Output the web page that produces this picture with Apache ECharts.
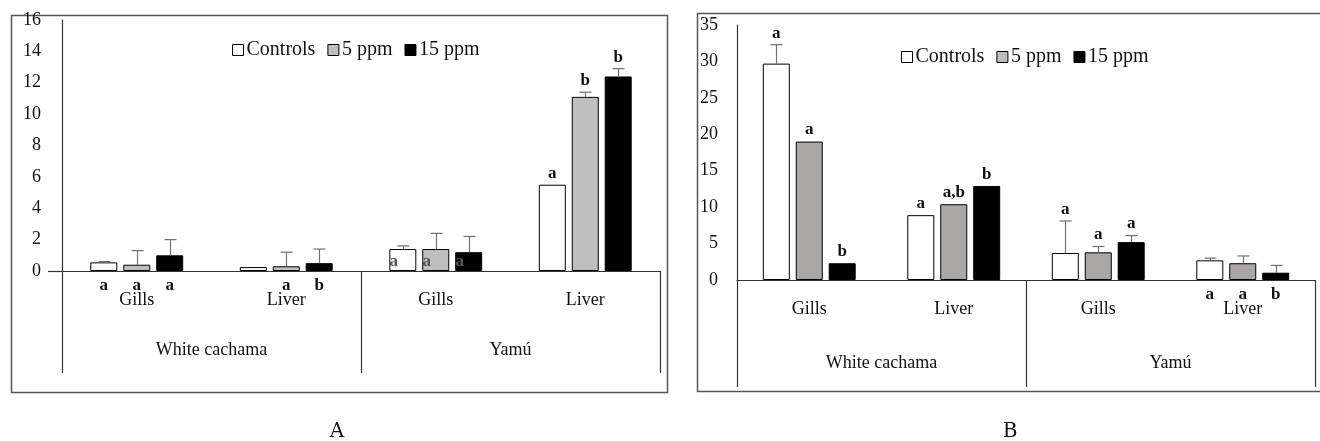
<!DOCTYPE html>
<html><head><meta charset="utf-8">
<script src="https://cdn.jsdelivr.net/npm/echarts@6/dist/echarts.min.js"></script>
<style>html,body{margin:0;padding:0;background:#fff}#c{width:1320px;height:441px}</style>
</head><body><div id="c"></div>
<script>
// ---------- DATA ----------
const organs = ['Gills', 'Liver', 'Gills', 'Liver'];
const species = ['White cachama', 'Yamú'];
const seriesNames = ['Controls', '5 ppm', '15 ppm'];

// Panel A
const ctrlA = [0.55, 0.25, 1.4, 5.5];
const ctrlErrA = [0.05, 0, 0.2, 0];
const p5A = [0.4, 0.3, 1.4, 11.1];
const p5ErrA = [0.9, 0.9, 1.0, 0.3];
const p15A = [1.0, 0.5, 1.2, 12.4];
const p15ErrA = [1.0, 0.9, 1.0, 0.5];
const ctrlLetA = ['a', '', 'a', 'a'];
const p5LetA = ['a', 'a', 'a', 'b'];
const p15LetA = ['a', 'b', 'a', 'b'];
const yTicksA = [0, 2, 4, 6, 8, 10, 12, 14, 16];

// Panel B
const ctrlB = [29.7, 8.9, 3.7, 2.7];
const ctrlErrB = [2.6, 0, 4.4, 0.3];
const p5B = [19.0, 10.4, 3.8, 2.3];
const p5ErrB = [0, 0, 0.8, 1.0];
const p15B = [2.3, 12.9, 5.2, 1.0];
const p15ErrB = [0, 0, 0.9, 1.0];
const ctrlLetB = ['a', 'a', 'a', 'a'];
const p5LetB = ['a', 'a,b', 'a', 'a'];
const p15LetB = ['b', 'b', 'a', 'b'];
const yTicksB = [0, 5, 10, 15, 20, 25, 30, 35];

// ---------- STYLE ----------
const FONT = '"Liberation Serif", "DejaVu Serif", serif';
const BAR_W = 27, BAR_STEP = 33;
const letterPlaceA = ['below', 'below', 'base', 'above'];
const letterPlaceB = ['above', 'above', 'above', 'below'];
const fills = ['#ffffff', '#bfbfbf', '#000000'];
const fillsB = ['#ffffff', '#aba7a5', '#000000'];

function errSeries(vals, errs, idx, xi, yi) {
  const off = (idx - 1) * BAR_STEP;
  return {
    type: 'custom', xAxisIndex: xi, yAxisIndex: yi, silent: true, z: 5,
    data: vals.map((v, i) => [i, v, errs[i]]),
    renderItem: function (params, api) {
      const e = api.value(2);
      if (!e) return null;
      const c = api.value(0), v = api.value(1);
      const b = api.coord([c, v]), t = api.coord([c, v + e]);
      const x = Math.round(b[0] + off) + 0.5;
      return { type: 'group', children: [
        { type: 'line', shape: { x1: x, y1: b[1], x2: x, y2: t[1] }, style: { stroke: '#707070', lineWidth: 1.2 } },
        { type: 'line', shape: { x1: x - 6, y1: t[1], x2: x + 6, y2: t[1] }, style: { stroke: '#707070', lineWidth: 1.2 } }
      ]};
    }
  };
}
function letterSeries(vals, errs, lets, idx, place, xi, yi) {
  const off = (idx - 1) * BAR_STEP;
  return {
    type: 'custom', xAxisIndex: xi, yAxisIndex: yi, silent: true, z: 6,
    data: vals.map((v, i) => [i, v, errs[i]]),
    renderItem: function (params, api) {
      const i = params.dataIndex;
      const txt = lets[i];
      if (!txt) return null;
      const c = api.value(0), v = api.value(1), e = api.value(2);
      const x = api.coord([c, 0])[0] + off;
      const y0 = api.coord([c, 0])[1];
      let y, va;
      if (place[i] === 'above') { y = api.coord([c, v + e])[1] - 3; va = 'bottom'; }
      else if (place[i] === 'below') { y = y0 + 6; va = 'top'; }
      else { y = y0 - 1; va = 'bottom'; }
      return { type: 'text', x: place[i] === 'base' ? x - 9 : x, y: y,
        style: { text: txt, font: 'bold 17px ' + FONT, fill: place[i] === 'base' ? '#555' : '#111',
          textAlign: 'center', textVerticalAlign: va } };
    }
  };
}
function barSeries(name, vals, idx, xi, yi, colors) {
  return {
    name: name, type: 'bar', xAxisIndex: xi, yAxisIndex: yi, data: vals,
    barWidth: BAR_W, barGap: '22%',
    itemStyle: { color: colors[idx], borderColor: '#000', borderWidth: 1 }
  };
}
function panel(gi, xi, yi, vals, errs, lets, place, colors) {
  const s = [];
  for (let k = 0; k < 3; k++) s.push(barSeries(seriesNames[k], vals[k], k, xi, yi, colors));
  for (let k = 0; k < 3; k++) s.push(errSeries(vals[k], errs[k], k, xi, yi));
  for (let k = 0; k < 3; k++) s.push(letterSeries(vals[k], errs[k], lets[k], k, place, xi, yi));
  return s;
}
function organAxis(gi) {
  return { type: 'category', gridIndex: gi, data: organs, position: 'bottom',
    axisLine: { show: true, lineStyle: { color: '#333', width: 1.2 } },
    axisTick: { show: false },
    axisLabel: { margin: 20, color: '#111', fontFamily: FONT, fontSize: 18 } };
}
function speciesAxis(gi, len, margin) {
  return { type: 'category', gridIndex: gi, data: species, position: 'bottom',
    axisLine: { show: false },
    axisTick: { show: true, length: len, lineStyle: { color: '#333', width: 1.2 } },
    axisLabel: { margin: margin, color: '#111', fontFamily: FONT, fontSize: 18 } };
}
function valAxis(gi, ticks, margin) {
  return { type: 'value', gridIndex: gi, min: ticks[0], max: ticks[ticks.length - 1],
    interval: ticks[1] - ticks[0],
    axisLine: { show: true, lineStyle: { color: '#333', width: 1.2 } },
    axisTick: { show: false }, splitLine: { show: false },
    axisLabel: { margin: margin, color: '#111', fontFamily: FONT, fontSize: 18 } };
}
function legend(left, top) {
  return { left: left, top: top, selectedMode: false, data: seriesNames,
    itemWidth: 11, itemHeight: 11, itemGap: 12, icon: 'rect',
    itemStyle: { borderColor: '#000', borderWidth: 1 },
    textStyle: { fontFamily: FONT, fontSize: 20, color: '#111', padding: [0, 0, 0, -2] } };
}

const option = {
  animation: false,
  legend: [legend(227, 35), legend(896, 42)],
  grid: [
    { left: 62, top: 20, width: 598, height: 251 },
    { left: 737, top: 25, width: 578, height: 255 }
  ],
  xAxis: [organAxis(0), speciesAxis(0, 102, 70), organAxis(1), speciesAxis(1, 107, 74)],
  yAxis: [valAxis(0, yTicksA, 21), valAxis(1, yTicksB, 19)],
  series: [].concat(
    panel(0, 0, 0, [ctrlA, p5A, p15A], [ctrlErrA, p5ErrA, p15ErrA], [ctrlLetA, p5LetA, p15LetA], letterPlaceA, fills),
    panel(1, 2, 1, [ctrlB, p5B, p15B], [ctrlErrB, p5ErrB, p15ErrB], [ctrlLetB, p5LetB, p15LetB], letterPlaceB, fillsB)
  ),
  graphic: [
    { type: 'rect', shape: { x: 11.5, y: 15.5, width: 656, height: 377 }, style: { fill: 'none', stroke: '#555', lineWidth: 1.5 }, silent: true },
    { type: 'rect', shape: { x: 697.5, y: 13.5, width: 640, height: 378 }, style: { fill: 'none', stroke: '#555', lineWidth: 1.5 }, silent: true },
    { type: 'line', shape: { x1: 48, y1: 271.5, x2: 62, y2: 271.5 }, style: { stroke: '#333', lineWidth: 1.2 }, silent: true },
    { type: 'text', x: 337, y: 432, style: { text: 'A', font: '20px "DejaVu Serif", serif', fill: '#111', textAlign: 'center', textVerticalAlign: 'middle' } },
    { type: 'text', x: 1010, y: 432, style: { text: 'B', font: '20px "DejaVu Serif", serif', fill: '#111', textAlign: 'center', textVerticalAlign: 'middle' } }
  ]
};
const chart = echarts.init(document.getElementById('c'), null, { renderer: 'canvas' });
chart.setOption(option);
</script>
</body></html>
